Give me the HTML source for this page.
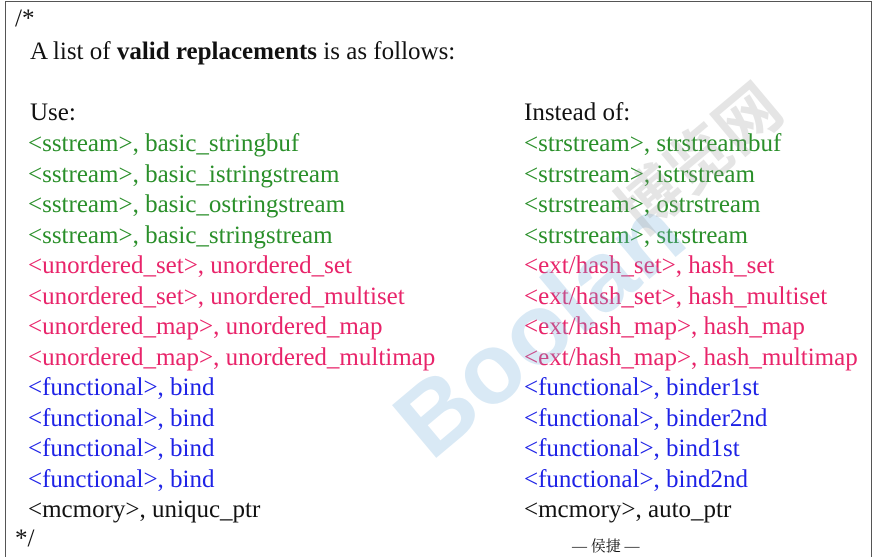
<!DOCTYPE html>
<html><head><meta charset="utf-8"><style>
html,body{margin:0;padding:0;background:#fff;overflow:hidden;}
#c{position:relative;width:877px;height:557px;overflow:hidden;font-family:"Liberation Serif",serif;font-size:25px;}
.b{position:absolute;left:5px;top:1px;width:867px;height:557px;border:1px solid #555;border-bottom:none;box-sizing:border-box;}
.t{position:absolute;white-space:nowrap;line-height:26px;}
.g{color:#2a8f2a}.p{color:#e8246a}.u{color:#1e22e6}.k{color:#111}
.wm{position:absolute;left:370px;top:270px;transform:rotate(-40deg);font-family:"Liberation Sans",sans-serif;font-weight:bold;font-size:100px;color:rgba(120,175,220,0.28);white-space:nowrap;}
.wm2{position:absolute;left:600px;top:110px;transform:rotate(-40deg);font-family:"Noto Sans CJK SC",sans-serif;font-weight:bold;font-size:64px;color:rgba(150,150,150,0.25);white-space:nowrap;}
</style></head><body><div id="c">
<div class="b"></div>
<div class="t k" style="left:15px;top:6px">/*</div>
<div class="t k" style="left:30px;top:39px">A list of <b>valid replacements</b> is as follows:</div>
<div class="t k" style="left:30px;top:100px">Use:</div>
<div class="t k" style="left:524px;top:100px">Instead of:</div>
<div class="t g" style="left:28px;top:131px">&lt;sstream&gt;, basic_stringbuf</div>
<div class="t g" style="left:28px;top:162px">&lt;sstream&gt;, basic_istringstream</div>
<div class="t g" style="left:28px;top:192px">&lt;sstream&gt;, basic_ostringstream</div>
<div class="t g" style="left:28px;top:223px">&lt;sstream&gt;, basic_stringstream</div>
<div class="t p" style="left:28px;top:253px">&lt;unordered_set&gt;, unordered_set</div>
<div class="t p" style="left:28px;top:284px">&lt;unordered_set&gt;, unordered_multiset</div>
<div class="t p" style="left:28px;top:314px">&lt;unordered_map&gt;, unordered_map</div>
<div class="t p" style="left:28px;top:345px">&lt;unordered_map&gt;, unordered_multimap</div>
<div class="t u" style="left:28px;top:375px">&lt;functional&gt;, bind</div>
<div class="t u" style="left:28px;top:406px">&lt;functional&gt;, bind</div>
<div class="t u" style="left:28px;top:436px">&lt;functional&gt;, bind</div>
<div class="t u" style="left:28px;top:467px">&lt;functional&gt;, bind</div>
<div class="t k" style="left:28px;top:497px">&lt;mcmory&gt;, uniquc_ptr</div>
<div class="t g" style="left:524px;top:131px">&lt;strstream&gt;, strstreambuf</div>
<div class="t g" style="left:524px;top:162px">&lt;strstream&gt;, istrstream</div>
<div class="t g" style="left:524px;top:192px">&lt;strstream&gt;, ostrstream</div>
<div class="t g" style="left:524px;top:223px">&lt;strstream&gt;, strstream</div>
<div class="t p" style="left:524px;top:253px">&lt;ext/hash_set&gt;, hash_set</div>
<div class="t p" style="left:524px;top:284px">&lt;ext/hash_set&gt;, hash_multiset</div>
<div class="t p" style="left:524px;top:314px">&lt;ext/hash_map&gt;, hash_map</div>
<div class="t p" style="left:524px;top:345px">&lt;ext/hash_map&gt;, hash_multimap</div>
<div class="t u" style="left:524px;top:375px">&lt;functional&gt;, binder1st</div>
<div class="t u" style="left:524px;top:406px">&lt;functional&gt;, binder2nd</div>
<div class="t u" style="left:524px;top:436px">&lt;functional&gt;, bind1st</div>
<div class="t u" style="left:524px;top:467px">&lt;functional&gt;, bind2nd</div>
<div class="t k" style="left:524px;top:497px">&lt;mcmory&gt;, auto_ptr</div>
<div class="t k" style="left:15px;top:526px">*/</div>
<div class="t k" style="left:572px;top:537px;font-size:15px;line-height:20px;font-family:'Liberation Serif','Noto Serif CJK SC',serif">— 侯捷 —</div>
<div class="wm">Boolan</div>
<div class="wm2">博览网</div>
</div></body></html>
